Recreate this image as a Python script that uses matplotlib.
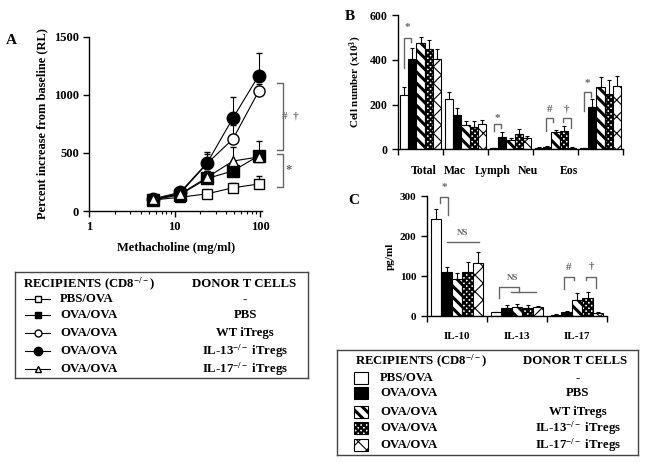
import numpy as np
import matplotlib
matplotlib.use("Agg")
import matplotlib.pyplot as plt
from matplotlib.lines import Line2D
from matplotlib.patches import Rectangle

plt.rcParams['font.family'] = ['Liberation Serif', 'DejaVu Serif']
plt.rcParams['font.weight'] = 'bold'
plt.rcParams['axes.labelweight'] = 'bold'
plt.rcParams['mathtext.fontset'] = 'custom'
plt.rcParams['mathtext.rm'] = 'Liberation Serif:bold'
plt.rcParams['mathtext.bf'] = 'Liberation Serif:bold'
plt.rcParams['mathtext.it'] = 'Liberation Serif:bold'
plt.rcParams['axes.linewidth'] = 1.0

# ---- panel A data: airway resistance ----
dose = [5.6, 11.5, 24, 48, 96]
pbs_ova = [95, 118, 148, 200, 232]
pbs_ova_err = [10, 15, 25, 45, 70]
ova_pbs = [95, 140, 280, 345, 475]
ova_pbs_err = [10, 20, 60, 60, 125]
ova_wt = [100, 150, 410, 620, 1030]
ova_wt_err = [10, 25, 80, 120, 60]
ova_il13 = [105, 160, 415, 800, 1165]
ova_il13_err = [10, 30, 95, 180, 195]
ova_il17 = [100, 145, 290, 430, 465]
ova_il17_err = [10, 20, 50, 120, 50]

# ---- panel B data: BAL cell counts ----
cell_types = ['Total', 'Mac', 'Lymph', 'Neu', 'Eos']
b_pbs = [242, 225, 4, 7, 4]
b_pbs_err = [35, 32, 2, 2, 2]
b_ova = [402, 153, 57, 12, 190]
b_ova_err = [50, 30, 19, 4, 33]
b_wt = [475, 109, 42, 79, 277]
b_wt_err = [28, 19, 10, 8, 47]
b_il13 = [447, 101, 68, 83, 247]
b_il13_err = [42, 27, 21, 21, 63]
b_il17 = [405, 113, 49, 7, 284]
b_il17_err = [42, 18, 11, 2, 45]

# ---- panel C data: cytokines ----
cytokines = ['IL-10', 'IL-13', 'IL-17']
c_pbs = [242, 9, 3]
c_pbs_err = [25, 2, 1]
c_ova = [110, 20, 11]
c_ova_err = [12, 7, 2]
c_wt = [92, 23, 40]
c_wt_err = [15, 6, 17]
c_il13 = [109, 20, 44]
c_il13_err = [25, 7, 17]
c_il17 = [133, 22, 8]
c_il17_err = [26, 4, 3]

recipients = ['PBS/OVA', 'OVA/OVA', 'OVA/OVA', 'OVA/OVA', 'OVA/OVA']
donors = ['-', 'PBS', 'WT iTregs', 'IL-13$^{-/-}$ iTregs', 'IL-17$^{-/-}$ iTregs']

# bar styles (face, hatch, hatch linewidth)
bar_styles = [('white', '', 1.0), ('black', '', 1.0), ('white', '\\\\\\', 2.2),
              ('white', 'xxxxxx', 1.6), ('white', 'xx', 0.8)]
GRAY = '#666666'

fig = plt.figure(figsize=(6.45, 4.62), dpi=100)
W, H = 645.0, 462.0


def px_axes(x0, y0, x1, y1):
    return fig.add_axes([x0 / W, 1 - y1 / H, (x1 - x0) / W, (y1 - y0) / H])


def style_axis(ax, size=8):
    ax.spines['top'].set_visible(False)
    ax.spines['right'].set_visible(False)
    ax.tick_params(direction='out', length=4, width=1, labelsize=size)


def grouped_bars(ax, series, errs, width):
    x = np.arange(len(series[0]))
    for j, (vals, err) in enumerate(zip(series, errs)):
        face, hatch, hlw = bar_styles[j]
        pos = x + (j - 2) * width
        with plt.rc_context({'hatch.linewidth': hlw}):
            bars = ax.bar(pos, vals, width, color=face, edgecolor='black',
                          hatch=hatch, linewidth=0.8, zorder=2)
        for b in bars:
            if hasattr(b, 'set_hatch_linewidth'):
                b.set_hatch_linewidth(hlw)
        ax.errorbar(pos, vals, yerr=[np.zeros(len(err)), err], fmt='none',
                    ecolor='black', elinewidth=0.8, capsize=1.5, capthick=0.8,
                    zorder=1)
    ax.set_xlim(-0.5, len(x) - 0.5)
    ax.set_xticks(np.arange(len(x) + 1) - 0.5)
    ax.set_xticklabels([])
    return x


def bracket(ax, x0, x1, top, left_low, right_low, label=None, ly=None, lsize=8):
    ax.plot([x0, x0, x1, x1], [left_low, top, top, right_low], color=GRAY,
            lw=1.0, clip_on=False)
    if label:
        ax.text((x0 + x1) / 2, ly, label, ha='center', va='center',
                color=GRAY, fontsize=lsize)


# ================= Panel A =================
axA = px_axes(89.3, 36.7, 262, 211)
style_axis(axA, 9)
axA.set_xscale('log')
axA.set_xlim(1, 105)
axA.set_ylim(0, 1500)
axA.set_yticks([0, 500, 1000, 1500])
axA.set_xticks([1, 10, 100])
axA.set_xticklabels(['1', '10', '100'])
axA.tick_params(which='minor', direction='out', length=2.5, width=0.8)
axA.set_xlabel('Methacholine (mg/ml)', fontsize=9, labelpad=6)
axA.set_ylabel('Percent increase from baseline (RL)', fontsize=9, labelpad=4)

a_series = [
    (pbs_ova, pbs_ova_err, 's', 'white', 7),
    (ova_pbs, ova_pbs_err, 's', 'black', 8),
    (ova_wt, ova_wt_err, 'o', 'white', 8),
    (ova_il13, ova_il13_err, 'o', 'black', 9),
    (ova_il17, ova_il17_err, '^', 'white', 7),
]
for vals, err, mk, fc, ms in a_series:
    axA.errorbar(dose, vals, yerr=[np.zeros(len(err)), err], color='black',
                 lw=0.8, marker=mk, mfc=fc, mec='black', mew=1.0, ms=ms,
                 capsize=2, capthick=0.8, elinewidth=0.8, clip_on=False)

# significance brackets to the right of A
axA.plot([158, 186, 186, 158], [1104, 1104, 525, 525], color=GRAY, lw=1.0, clip_on=False)
axA.plot([158, 186, 186, 158], [490, 490, 206, 206], color=GRAY, lw=1.0, clip_on=False)
axA.text(228, 815, '#  \u2020', ha='center', va='center', color=GRAY, fontsize=8)
axA.text(218, 350, '*', ha='center', va='center', color=GRAY, fontsize=9)

fig.text(11 / W, 1 - 40 / H, 'A', fontsize=11, ha='center', va='center')

# ================= Panel B =================
axB = px_axes(398, 15, 623, 149.3)
style_axis(axB, 8.5)
grouped_bars(axB, [b_pbs, b_ova, b_wt, b_il13, b_il17],
             [b_pbs_err, b_ova_err, b_wt_err, b_il13_err, b_il17_err], 0.178)
axB.set_ylim(0, 600)
axB.set_yticks([0, 200, 400, 600])
axB.set_ylabel('Cell number (x10$^3$)', fontsize=8, labelpad=4)
label_pos = [0.07, 0.76, 1.6, 2.38, 3.3]
for p, name in zip(label_pos, cell_types):
    axB.text(p, -0.12, name, transform=axB.get_xaxis_transform(),
             ha='center', va='top', fontsize=8.5)
w = 0.178
bracket(axB, -2 * w, -1.2 * w, 498, 363, 480, '*', 542)
bracket(axB, 2 - 2 * w, 2 - 1.2 * w, 112, 81, 95, '*', 139)
bracket(axB, 3 - 1.2 * w, 3 - 0.25 * w, 139, 81, 121, '#', 179)
bracket(axB, 3 + 0.9 * w, 3 + 1.9 * w, 139, 121, 94, '\u2020', 182)
bracket(axB, 4 - 2 * w, 4 - 1.2 * w, 255, 170, 233, '*', 296)
fig.text(350 / W, 1 - 16 / H, 'B', fontsize=11, ha='center', va='center')

# ================= Panel C =================
axC = px_axes(427, 196, 607, 316)
style_axis(axC, 8)
grouped_bars(axC, [c_pbs, c_ova, c_wt, c_il13, c_il17],
             [c_pbs_err, c_ova_err, c_wt_err, c_il13_err, c_il17_err], 0.175)
axC.set_ylim(0, 300)
axC.set_yticks([0, 100, 200, 300])
axC.set_ylabel('pg/ml', fontsize=8, labelpad=4)
for p, name in enumerate(cytokines):
    axC.text(p, -0.13, name, transform=axC.get_xaxis_transform(),
             ha='center', va='top', fontsize=8)
w = 0.175
bracket(axC, -1.6 * w, -0.85 * w, 298, 282, 252, '*', 322)
axC.plot([-1.0 * w, 2.1 * w], [184, 184], color=GRAY, lw=1.0)
axC.text(0.5 * w, 207, 'NS', ha='center', va='center', color=GRAY, fontsize=6.5)
axC.plot([1 - 1.75 * w, 1 - 1.75 * w, 1 + 0.15 * w, 1 + 0.15 * w],
         [44, 72, 72, 59], color=GRAY, lw=1.0)
axC.plot([1 - 0.55 * w, 1 + 1.85 * w], [59, 59], color=GRAY, lw=1.0)
axC.text(1 - 0.4 * w, 94, 'NS', ha='center', va='center', color=GRAY, fontsize=6.5)
bracket(axC, 2 - 1.2 * w, 2 - 0.3 * w, 97, 67, 90, '#', 122)
bracket(axC, 2 + 0.9 * w, 2 + 1.8 * w, 97, 90, 69, '\u2020', 124)
fig.text(354 / W, 1 - 201 / H, 'C', fontsize=11, ha='center', va='center')


# ================= Legends =================
def legend_box(x0, y0, x1, y1):
    ax = px_axes(x0, y0, x1, y1)
    ax.set_xlim(0, x1 - x0)
    ax.set_ylim(y1 - y0, 0)
    ax.set_xticks([])
    ax.set_yticks([])
    for s in ax.spines.values():
        s.set_linewidth(1.0)
        s.set_edgecolor('#444444')
    return ax


LEG_FS = 9.2

# legend for A
legA = legend_box(15, 272, 308, 378)
legA.text(8, 12, 'RECIPIENTS (CD8$^{-/-}$)', fontsize=LEG_FS, va='center', ha='left')
legA.text(229, 12, 'DONOR T CELLS', fontsize=LEG_FS, va='center', ha='center')
rows_a = [27, 43, 61, 79, 97]
for i, (vals, err, mk, fc, ms) in enumerate(a_series):
    yy = rows_a[i]
    legA.add_line(Line2D([10, 35], [yy, yy], color='black', lw=0.8))
    legA.add_line(Line2D([22.5], [yy], marker=mk, mfc=fc, mec='black',
                         ms=max(ms - 3, 4.5), mew=1.0))
    legA.text(45, yy, recipients[i], fontsize=LEG_FS, va='center', ha='left')
    legA.text(230, yy, donors[i], fontsize=LEG_FS, va='center', ha='center')

# legend for C (bars)
legC = legend_box(337, 350, 638, 455)
legC.text(18, 11, 'RECIPIENTS (CD8$^{-/-}$)', fontsize=LEG_FS, va='center', ha='left')
legC.text(238, 11, 'DONOR T CELLS', fontsize=LEG_FS, va='center', ha='center')
rows_c = [27.7, 43, 61.7, 78, 95]
for i in range(5):
    yy = rows_c[i]
    face, hatch, hlw = bar_styles[i]
    with plt.rc_context({'hatch.linewidth': hlw}):
        r = Rectangle((17, yy - 6), 14, 12, facecolor=face, edgecolor='black',
                      hatch=hatch, lw=0.8)
    if hasattr(r, 'set_hatch_linewidth'):
        r.set_hatch_linewidth(hlw)
    legC.add_patch(r)
    legC.text(43, yy, recipients[i], fontsize=LEG_FS, va='center', ha='left')
    legC.text(241, yy, donors[i], fontsize=LEG_FS, va='center', ha='center')

fig.savefig('out.png', dpi=100)
